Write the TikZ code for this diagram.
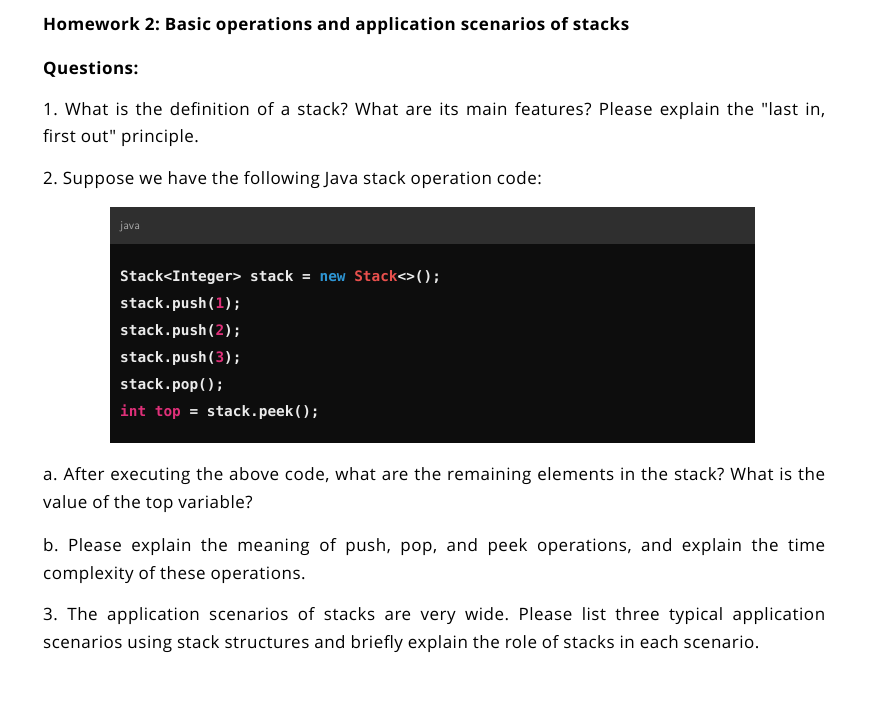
\documentclass[tikz,border=0pt]{standalone}
\usepackage{fontspec}
\setmainfont{Open Sans}[Ligatures=TeXOff,LetterSpace=3]
\setmonofont{DejaVu Sans Mono}
\frenchspacing
\definecolor{hdr}{HTML}{2F2F2F}
\definecolor{codebg}{HTML}{0D0D0D}
\definecolor{kwblue}{HTML}{2E95D3}
\definecolor{kwred}{HTML}{DF3079}
\definecolor{clsred}{HTML}{E9504D}
\definecolor{numc}{HTML}{DF3079}
\tikzset{x=1pt,y=-1pt,
 txt/.style={anchor=base west,inner sep=0,font=\fontsize{17}{20}\selectfont,text=black},
 ttl/.style={txt,font=\fontsize{17}{20}\selectfont\bfseries},
 code/.style={anchor=base west,inner sep=0,font=\fontsize{14.4}{17}\selectfont\ttfamily\bfseries,text=white!92!black}}
\newcommand{\jl}[1]{\hbox to 782pt{#1}}
\newcommand{\dq}{"}
\begin{document}
\begin{tikzpicture}
\useasboundingbox[fill=white] (0,0) rectangle (872,702);
\node[ttl] (t) at (43,30) {Homework 2: Basic operations and application scenarios of stacks};
\node[ttl] (q) at (43,74) {Questions:};
\node[txt] (q1a) at (43,115) {\jl{1. What is the definition of a stack? What are its main features? Please explain the \dq last in,}};
\node[txt] (q1b) at (43,142) {first out\dq\ principle.};
\node[txt] (q2) at (43,184) {2. Suppose we have the following Java stack operation code:};
\fill[codebg] (110,207) rectangle (755,443);
\fill[hdr] (110,207) rectangle (755,244);
\node[anchor=base west,inner sep=0,text=gray!70!white,font=\fontsize{12}{14}\selectfont\sffamily] (jv) at (120,229) {java};
\node[code] (c1) at (120,281) {Stack<Integer> stack = \textcolor{kwblue}{new} \textcolor{clsred}{Stack}<>();};
\node[code] (c2) at (120,308) {stack.push(\textcolor{numc}{1});};
\node[code] (c3) at (120,335) {stack.push(\textcolor{numc}{2});};
\node[code] (c4) at (120,362) {stack.push(\textcolor{numc}{3});};
\node[code] (c5) at (120,389) {stack.pop();};
\node[code] (c6) at (120,416) {\textcolor{kwred}{int} \textcolor{kwred}{top} = stack.peek();};
\node[txt] (aa) at (43,480) {\jl{a. After executing the above code, what are the remaining elements in the stack? What is the}};
\node[txt] (ab) at (43,508) {value of the top variable?};
\node[txt] (ba) at (43,551) {\jl{b. Please explain the meaning of push, pop, and peek operations, and explain the time}};
\node[txt] (bb) at (43,579) {complexity of these operations.};
\node[txt] (ca) at (43,620) {\jl{3. The application scenarios of stacks are very wide. Please list three typical application}};
\node[txt] (cb) at (43,648) {scenarios using stack structures and briefly explain the role of stacks in each scenario.};
\end{tikzpicture}
\end{document}
